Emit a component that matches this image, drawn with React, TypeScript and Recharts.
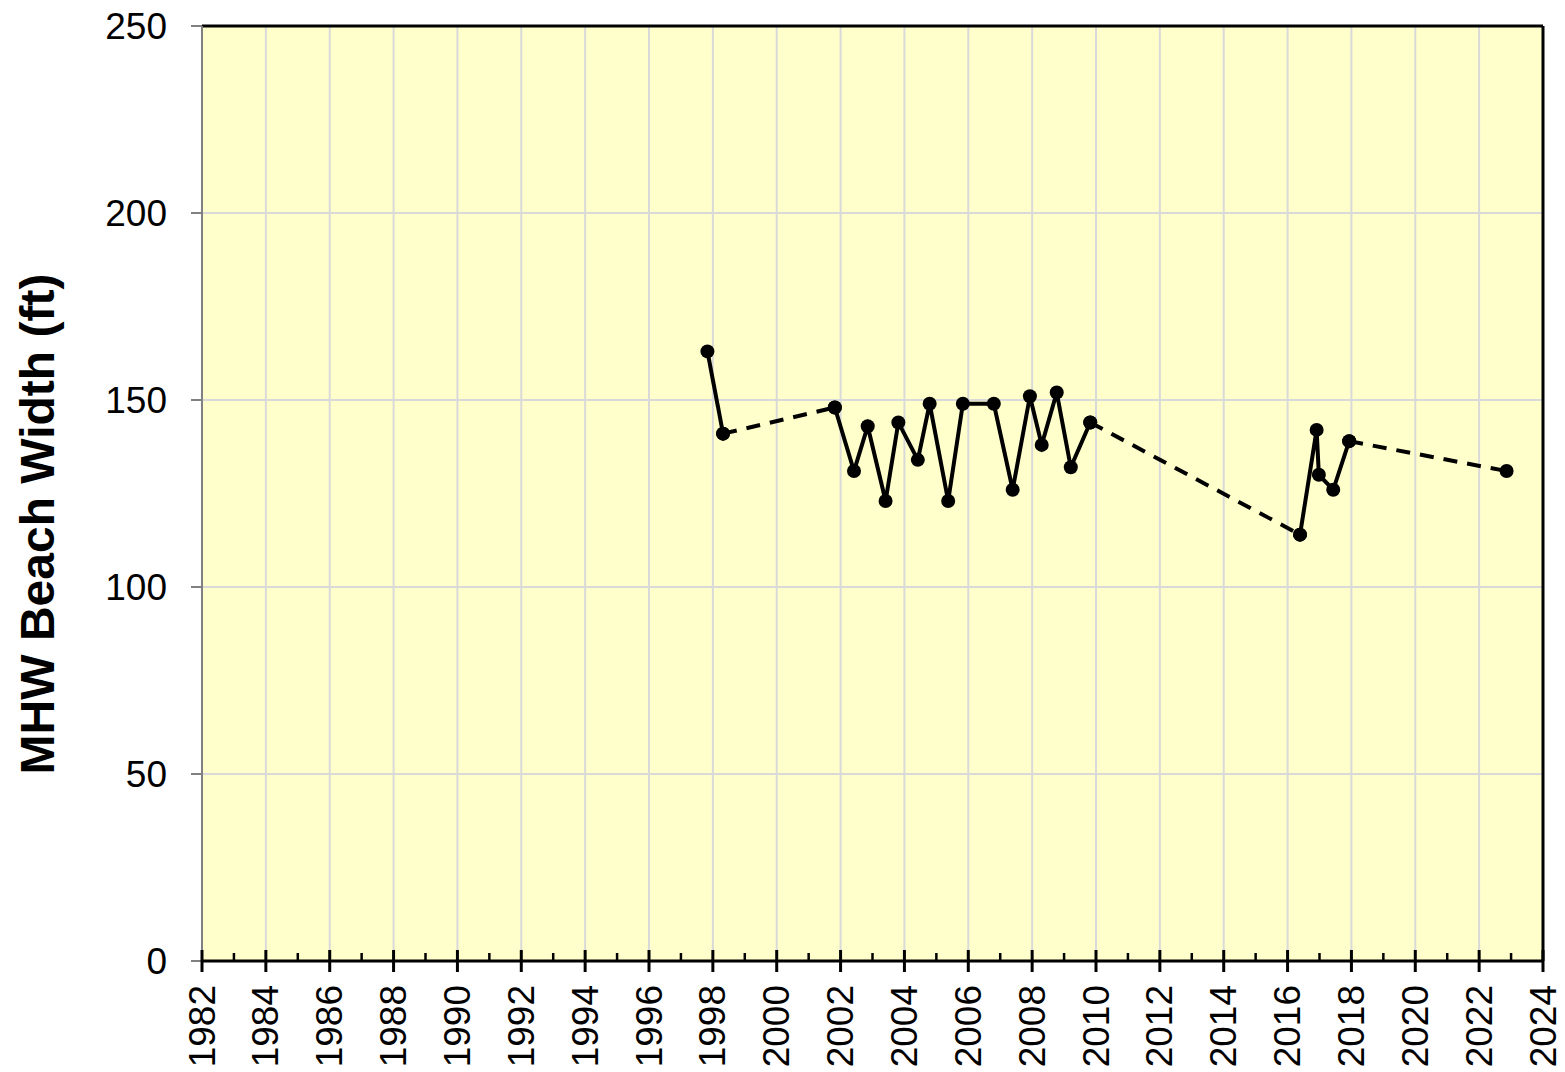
import React from 'react';
import { LineChart, Line, XAxis, YAxis, CartesianGrid, ReferenceLine, Label } from 'recharts';

// Survey dates (decimal years) and MHW beach widths (ft)
const years = [
  1997.83, 1998.32, 2001.82, 2002.42, 2002.85, 2003.41, 2003.81, 2004.42, 2004.79, 2005.37,
  2005.83, 2006.8, 2007.39, 2007.93, 2008.3, 2008.77, 2009.21, 2009.82, 2016.39, 2016.91,
  2016.98, 2017.43, 2017.93, 2022.86,
];
const widths = [
  163, 141, 148, 131, 143, 123, 144, 134, 149, 123,
  149, 149, 126, 151, 138, 152, 132, 144, 114, 142,
  130, 126, 139, 131,
];
// index ranges of connected surveys (solid) and gaps (dashed)
const solidRuns = [[0, 1], [2, 17], [18, 22]];
const dashedRuns = [[1, 2], [17, 18], [22, 23]];

const majorYears = [1982, 1984, 1986, 1988, 1990, 1992, 1994, 1996, 1998, 2000, 2002, 2004, 2006, 2008, 2010, 2012, 2014, 2016, 2018, 2020, 2022, 2024];
const minorYears = majorYears.slice(0, -1).map((y) => y + 1);
const xTicks = [...majorYears, ...minorYears].sort((a, b) => a - b);
const yTicks = [0, 50, 100, 150, 200, 250];

const FONT = "'Liberation Sans', Arial, Helvetica, sans-serif";

const toRows = (run: number[]) => {
  const rows: { year: number; w: number }[] = [];
  for (let i = run[0]; i <= run[1]; i++) rows.push({ year: years[i], w: widths[i] });
  return rows;
};

const XTick = (props: any) => {
  const { x, y, payload } = props;
  const v = payload.value as number;
  const major = v % 2 === 0;
  return (
    <g>
      {major ? (
        <line x1={x} x2={x} y1={y - 11} y2={y + 11} stroke="#000" strokeWidth={3} />
      ) : (
        <line x1={x} x2={x} y1={y - 8} y2={y} stroke="#000" strokeWidth={2.5} />
      )}
      {major && (
        <text
          x={x}
          y={y + 24}
          transform={`rotate(-90 ${x} ${y + 24})`}
          textAnchor="end"
          dominantBaseline="central"
          fontSize={37}
          fontFamily={FONT}
          fill="#000"
        >
          {v}
        </text>
      )}
    </g>
  );
};

const YLabel = () => (
  <text
    x={37}
    y={524}
    transform="rotate(-90 37 524)"
    textAnchor="middle"
    dominantBaseline="central"
    fontSize={48}
    fontWeight="bold"
    fontFamily={FONT}
    fill="#000"
  >
    MHW Beach Width (ft)
  </text>
);

const DOT = { r: 7, fill: '#000', stroke: '#000', strokeWidth: 0 };

export default function App() {
  return (
    <div style={{ position: 'absolute', left: 0, top: 0, background: '#fff' }}>
      <LineChart width={1565} height={1072} margin={{ top: 26, right: 22, bottom: 0, left: 0 }}>
        <CartesianGrid
          fill="#FFFFCC"
          stroke="#D9D9D9"
          strokeWidth={2}
          verticalValues={majorYears}
          horizontalValues={yTicks}
        />
        <XAxis
          type="number"
          dataKey="year"
          domain={[1982, 2024]}
          ticks={xTicks}
          interval={0}
          allowDataOverflow
          height={111}
          tickSize={0}
          tickMargin={0}
          tickLine={false}
          axisLine={{ stroke: '#000', strokeWidth: 3 }}
          tick={<XTick />}
        />
        <YAxis
          type="number"
          domain={[0, 250]}
          ticks={yTicks}
          interval={0}
          width={202}
          tickSize={11}
          tickMargin={24}
          axisLine={{ stroke: '#808080', strokeWidth: 2 }}
          tickLine={{ stroke: '#808080', strokeWidth: 2 }}
          tick={{ fill: '#000', fontSize: 37, fontFamily: FONT }}
        >
          <Label content={<YLabel />} />
        </YAxis>
        <ReferenceLine y={250} stroke="#000" strokeWidth={3} />
        <ReferenceLine x={2024} stroke="#000" strokeWidth={3} />
        {dashedRuns.map((r, i) => (
          <Line
            key={'d' + i}
            data={toRows(r)}
            dataKey="w"
            stroke="#000"
            strokeWidth={4}
            strokeDasharray="14 10"
            dot={DOT}
            isAnimationActive={false}
          />
        ))}
        {solidRuns.map((r, i) => (
          <Line
            key={'s' + i}
            data={toRows(r)}
            dataKey="w"
            stroke="#000"
            strokeWidth={4}
            dot={DOT}
            isAnimationActive={false}
          />
        ))}
      </LineChart>
    </div>
  );
}
